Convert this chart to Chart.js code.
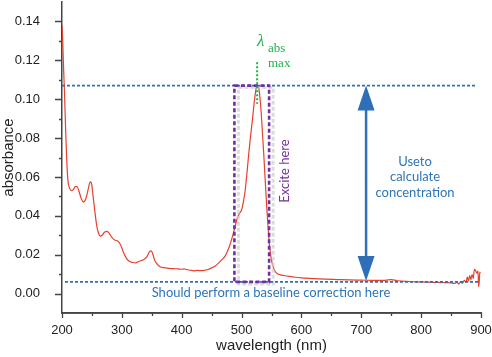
<!DOCTYPE html>
<html>
<head>
<meta charset="utf-8">
<script src="https://cdn.jsdelivr.net/npm/chart.js@4/dist/chart.umd.min.js"></script>
<style>
html,body{margin:0;padding:0;background:#fff;}
#wrap{width:492px;height:357px;}
</style>
</head>
<body>
<div id="wrap"><canvas id="c" width="492" height="357"></canvas></div>
<script>
// ---- data ----
const wavelengths = [200,201,202,203,204,206,208,210,213,216,219,222,225,228,232,236,240,244,247,249,252,255,258,261,264,267,271,275,279,283,288,293,298,303,308,313,318,323,328,333,338,342,346,349,352,355,359,364,370,378,386,394,400,404,408,414,420,426,432,438,444,450,456,462,468,472,476,480,484,488,492,496,500,503,506,509,512,515,518,521,523,525,527,529,531,533,535,537,539,541,543,545,547,549,552,556,560,565,570,580,590,600,620,640,660,680,700,720,740,750,760,780,800,820,840,850,856,860,863,866,869,872,875,877,879,881,883,885,887,889,891,893,895,896,897,898,899];
const absorbance = [0.138,0.132,0.122,0.113,0.105,0.085,0.068,0.058,0.054,0.053,0.0535,0.055,0.055,0.053,0.049,0.047,0.049,0.054,0.0575,0.057,0.050,0.042,0.035,0.031,0.0295,0.030,0.0315,0.032,0.031,0.029,0.0275,0.027,0.025,0.021,0.018,0.0165,0.016,0.0158,0.0165,0.017,0.0178,0.019,0.0215,0.022,0.020,0.017,0.0152,0.0138,0.0133,0.013,0.0128,0.0127,0.0125,0.0127,0.0124,0.012,0.0117,0.0119,0.0118,0.0119,0.0124,0.0132,0.0142,0.0158,0.0177,0.019,0.0215,0.0245,0.0285,0.033,0.038,0.041,0.043,0.047,0.053,0.062,0.072,0.081,0.089,0.098,0.103,0.1065,0.107,0.105,0.100,0.092,0.082,0.072,0.061,0.050,0.040,0.031,0.024,0.019,0.0145,0.0115,0.0102,0.0096,0.0093,0.0088,0.0084,0.0081,0.0077,0.0074,0.0072,0.0070,0.0069,0.0068,0.0068,0.0072,0.0066,0.0062,0.0060,0.0058,0.0056,0.0055,0.0052,0.0058,0.0049,0.0062,0.0052,0.0068,0.0057,0.0085,0.0065,0.0092,0.0072,0.0098,0.0078,0.0125,0.0118,0.0105,0.0115,0.0035,0.0060,0.0110,0.0105];

const xMajorTicks = [200,300,400,500,600,700,800,900];
const xMinorTicks = [250,350,450,550,650,750,850];
const yMajorTicks = [0.00,0.02,0.04,0.06,0.08,0.10,0.12,0.14];
const yMinorTicks = [0.01,0.03,0.05,0.07,0.09,0.11,0.13];

// annotation values (data units)
const peakLevel = [0.107, 200, 890];      // value, from nm, to nm
const baseLevel = [0.006, 205, 898];
const exciteRange = [488, 546];
const lambdaMaxLine = [526, 0.0976, 0.119];
const arrowAt = [708];

const annot = {
  id:'annot',
  afterDatasetsDraw(chart){
    const ctx = chart.ctx, x = chart.scales.x, y = chart.scales.y;
    ctx.save();
    // grey shadow box
    ctx.setLineDash([4,2]);
    ctx.strokeStyle='rgba(205,205,205,0.7)';
    ctx.lineWidth=3;
    ctx.strokeRect(x.getPixelForValue(exciteRange[0])+4, y.getPixelForValue(peakLevel[0])+2,
      x.getPixelForValue(exciteRange[1])-x.getPixelForValue(exciteRange[0]), y.getPixelForValue(baseLevel[0])-y.getPixelForValue(peakLevel[0]));
    // blue dashed lines
    ctx.strokeStyle='#2e6fb7';
    ctx.lineWidth=1.6;
    ctx.setLineDash([3,2]);
    [peakLevel, baseLevel].forEach(l=>{
      ctx.beginPath();
      ctx.moveTo(x.getPixelForValue(l[1]), y.getPixelForValue(l[0]));
      ctx.lineTo(x.getPixelForValue(l[2]), y.getPixelForValue(l[0]));
      ctx.stroke();
    });
    // purple box
    ctx.strokeStyle='#7030a0';
    ctx.lineWidth=2.6;
    ctx.setLineDash([4,2.5]);
    const bx0=x.getPixelForValue(exciteRange[0]), bx1=x.getPixelForValue(exciteRange[1]);
    const by0=y.getPixelForValue(peakLevel[0]), by1=y.getPixelForValue(baseLevel[0]);
    ctx.strokeRect(bx0,by0,bx1-bx0,by1-by0);
    // green dotted line
    ctx.strokeStyle='#22b04b';
    ctx.lineWidth=2;
    ctx.setLineDash([2,2]);
    const gx=x.getPixelForValue(lambdaMaxLine[0]);
    ctx.beginPath();
    ctx.moveTo(gx, y.getPixelForValue(lambdaMaxLine[2]));
    ctx.lineTo(gx, y.getPixelForValue(lambdaMaxLine[1]));
    ctx.stroke();
    ctx.setLineDash([]);
    // arrow
    const ax=x.getPixelForValue(arrowAt[0]);
    const ay0=y.getPixelForValue(peakLevel[0]), ay1=y.getPixelForValue(baseLevel[0]);
    ctx.strokeStyle='#2e6fb7'; ctx.fillStyle='#2e6fb7';
    ctx.lineWidth=2.5;
    ctx.beginPath(); ctx.moveTo(ax, ay0+20); ctx.lineTo(ax, ay1-20); ctx.stroke();
    ctx.beginPath(); ctx.moveTo(ax, ay0); ctx.lineTo(ax-8.5, ay0+25); ctx.lineTo(ax+8.5, ay0+25); ctx.closePath(); ctx.fill();
    ctx.beginPath(); ctx.moveTo(ax, ay1-1); ctx.lineTo(ax-8.5, ay1-26); ctx.lineTo(ax+8.5, ay1-26); ctx.closePath(); ctx.fill();
    // texts
    ctx.textBaseline='middle';
    ctx.textAlign='center';
    ctx.font='13px Lato';
    ctx.fillStyle='#2e75b6';
    ctx.fillText('Useto', 415, 162);
    ctx.fillText('calculate', 415, 177);
    ctx.fillText('concentration', 415, 193);
    ctx.fillText('Should perform a baseline correction here', 271, 293);
    ctx.fillStyle='#7030a0';
    ctx.save();
    ctx.translate(285, 171); ctx.rotate(-Math.PI/2);
    ctx.fillText('Excite here', 0, 0);
    ctx.restore();
    ctx.fillStyle='#22b04b';
    ctx.textAlign='left';
    ctx.font='italic 17px "Liberation Serif"';
    ctx.fillText('λ', 257, 42);
    ctx.font='13px "Liberation Serif"';
    ctx.fillText('abs', 268, 49);
    ctx.fillText('max', 268, 64);
    ctx.restore();
  }
};

const minorTicks = {
  id:'minorTicks',
  afterDraw(chart){
    const ctx=chart.ctx, x=chart.scales.x, y=chart.scales.y, ca=chart.chartArea;
    ctx.save();
    ctx.strokeStyle='#444'; ctx.lineWidth=1.3;
    ctx.beginPath();
    ctx.moveTo(ca.left, ca.bottom); ctx.lineTo(ca.right, ca.bottom);
    xMajorTicks.forEach(v=>{const p=Math.round(x.getPixelForValue(v))+0.5; ctx.moveTo(p,ca.bottom); ctx.lineTo(p,ca.bottom+5);});
    xMinorTicks.forEach(v=>{const p=Math.round(x.getPixelForValue(v))+0.5; ctx.moveTo(p,ca.bottom); ctx.lineTo(p,ca.bottom+3);});
    yMajorTicks.forEach(v=>{const p=Math.round(y.getPixelForValue(v))+0.5; ctx.moveTo(ca.left,p); ctx.lineTo(ca.left-7,p);});
    yMinorTicks.forEach(v=>{const p=Math.round(y.getPixelForValue(v))+0.5; ctx.moveTo(ca.left,p); ctx.lineTo(ca.left-3,p);});
    ctx.stroke();
    ctx.restore();
  }
};

new Chart(document.getElementById('c'), {
  type:'line',
  data:{
    datasets:[{
      data: wavelengths.map((w,i)=>({x:w, y:absorbance[i]})),
      borderColor:'#e8402f',
      borderWidth:1.2,
      pointRadius:0,
      cubicInterpolationMode:'monotone',
      fill:false
    }]
  },
  options:{
    responsive:false,
    animation:false,
    devicePixelRatio:1,
    layout:{padding:{top:2,right:11,left:0,bottom:0}},
    plugins:{legend:{display:false},tooltip:{enabled:false}},
    scales:{
      x:{
        type:'linear', min:200, max:900,
        afterBuildTicks(s){ s.ticks = xMajorTicks.map(v=>({value:v})); },
        afterFit(s){ s.height = 44; s.paddingLeft = 0; s.paddingRight = 0; s.paddingTop = 0; s.paddingBottom = 0; },
        grid:{display:false},
        border:{display:true,color:'#444',width:1.5},
        ticks:{padding:2,color:'#222',font:{family:'"Liberation Sans", Arial',size:13},maxRotation:0,autoSkip:false},
        title:{display:true,text:'wavelength (nm)',color:'#222',font:{family:'"Liberation Sans", Arial',size:15},padding:{top:0,bottom:2}}
      },
      y:{
        type:'linear', min:-0.01, max:0.15,
        afterBuildTicks(s){ s.ticks = yMajorTicks.map(v=>({value:v})); },
        afterFit(s){ s.width = 62; s.paddingTop = 0; s.paddingBottom = 0; s.paddingLeft = 0; s.paddingRight = 0; },
        grid:{display:false},
        border:{display:true,color:'#444',width:1.5},
        ticks:{padding:14,color:'#222',font:{family:'"Liberation Sans", Arial',size:13},callback:v=>v.toFixed(2),autoSkip:false},
        title:{display:true,text:'absorbance',color:'#222',font:{family:'"Liberation Sans", Arial',size:15},padding:{top:0,bottom:0}}
      }
    }
  },
  plugins:[annot, minorTicks]
});
</script>
</body>
</html>
